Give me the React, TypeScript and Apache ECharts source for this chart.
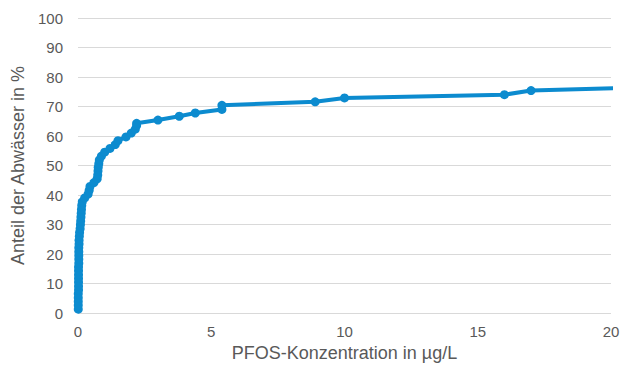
import React, { useEffect, useRef } from "react";
import * as echarts from "echarts";

const xTitle = "PFOS-Konzentration in µg/L";
const yTitle = "Anteil der Abwässer in %";

const concentration = [
  0.01, 0.01, 0.01, 0.01, 0.01, 0.02, 0.02, 0.02, 0.02, 0.02, 0.02, 0.02,
  0.03, 0.03, 0.03, 0.03, 0.03, 0.04, 0.04, 0.05, 0.06, 0.08, 0.09, 0.1,
  0.11, 0.12, 0.13, 0.14, 0.16, 0.25, 0.38, 0.42, 0.45, 0.6, 0.72, 0.74,
  0.75, 0.76, 0.78, 0.8, 0.88, 1.0, 1.2, 1.4, 1.5, 1.8, 2.0, 2.15, 2.2,
  2.2, 3.0, 3.8, 4.4, 5.4, 5.4, 8.9, 10.0, 16.0, 17.0, 25.0,
];
const share = [
  1.3, 2.6, 3.9, 5.2, 6.5, 7.8, 9.1, 10.4, 11.7, 13.0, 14.3, 15.6, 16.9,
  18.2, 19.5, 20.8, 22.1, 23.4, 24.7, 26.0, 27.3, 28.6, 29.9, 31.2, 32.5,
  33.8, 35.1, 36.4, 37.7, 39.0, 40.3, 41.6, 42.9, 44.2, 45.5, 46.8, 48.1,
  49.4, 50.6, 51.9, 53.2, 54.5, 55.8, 57.1, 58.4, 59.7, 61.0, 62.3, 63.6,
  64.3, 65.4, 66.7, 67.8, 69.0, 70.4, 71.6, 72.9, 74.0, 75.4, 77.4,
];

const C = "#0C8BCF";
const TXT = "#595959";
const FONT = "'Liberation Sans', Arial, sans-serif";

export default function App() {
  const ref = useRef<HTMLDivElement>(null);
  useEffect(() => {
    const chart = echarts.init(ref.current!, null, { renderer: "svg" });
    chart.setOption({
      animation: false,
      grid: { left: 78, right: 14, top: 18, bottom: 54, containLabel: false },
      xAxis: {
        type: "value",
        min: 0,
        max: 20,
        interval: 5,
        name: xTitle,
        nameLocation: "middle",
        nameGap: 31,
        nameTextStyle: { color: TXT, fontSize: 18, fontFamily: FONT },
        axisLine: { show: false },
        axisTick: { show: false },
        splitLine: { show: false },
        axisLabel: { color: TXT, fontSize: 15, fontFamily: FONT, margin: 11 },
      },
      yAxis: {
        type: "value",
        min: 0,
        max: 100,
        interval: 10,
        name: yTitle,
        nameLocation: "middle",
        nameGap: 47,
        nameTextStyle: { color: TXT, fontSize: 18, fontFamily: FONT },
        axisLine: { show: false },
        axisTick: { show: false },
        splitLine: { show: true, lineStyle: { color: "#D9D9D9", width: 1 } },
        axisLabel: { color: TXT, fontSize: 15, fontFamily: FONT, margin: 15 },
      },
      series: [
        {
          type: "line",
          data: concentration.map((x, i) => [x, share[i]]),
          clip: true,
          symbol: "circle",
          symbolSize: 9,
          showAllSymbol: true,
          lineStyle: { color: C, width: 4 },
          itemStyle: { color: C },
        },
      ],
    });
    return () => chart.dispose();
  }, []);
  return <div ref={ref} style={{ width: 625, height: 367, position: "absolute", left: 0, top: 0 }} />;
}
